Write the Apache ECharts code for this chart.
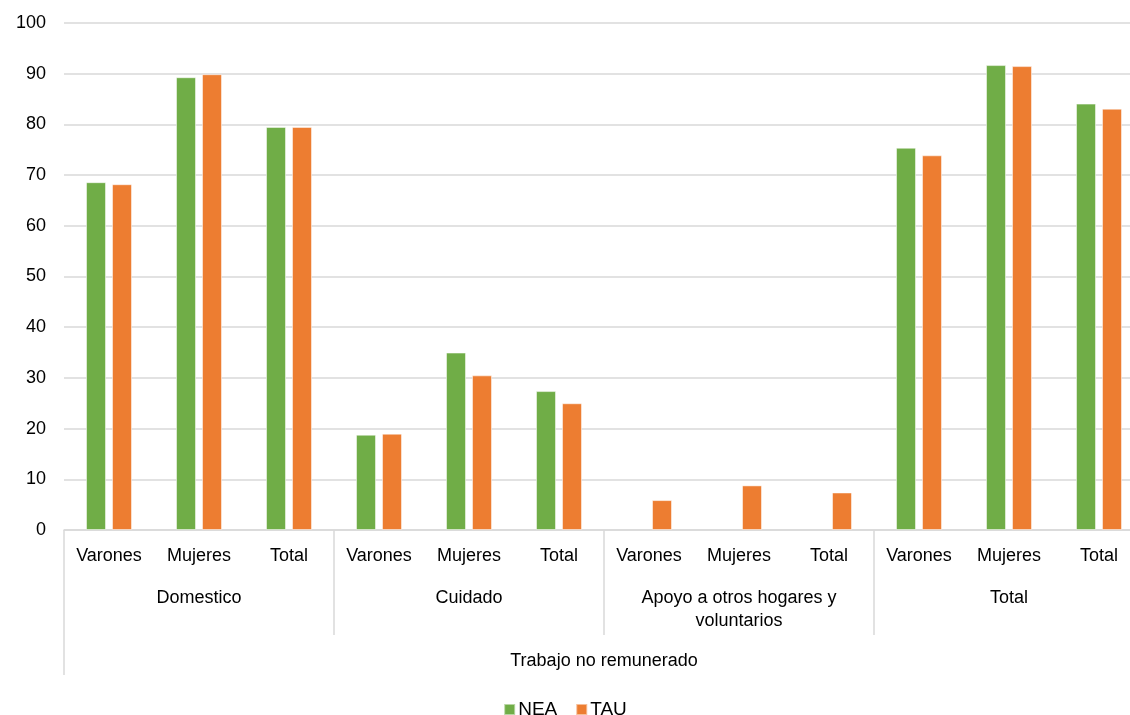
<!DOCTYPE html>
<html>
<head>
<meta charset="utf-8">
<script src="https://cdn.jsdelivr.net/npm/echarts@6/dist/echarts.min.js"></script>
<style>
  html, body { margin: 0; padding: 0; background: #fff; }
  #chart { width: 1130px; height: 715px; }
</style>
</head>
<body>
<div id="chart"></div>
<script>
// subcategories (first row of the axis)
var subLabels = ['Varones', 'Mujeres', 'Total', 'Varones', 'Mujeres', 'Total',
                 'Varones', 'Mujeres', 'Total', 'Varones', 'Mujeres', 'Total'];
// groups (second row)
var groupLabels = ['Domestico', 'Cuidado', 'Apoyo a otros hogares y\nvoluntarios', 'Total'];
// top row
var topLabels = ['Trabajo no remunerado'];

var neaValues = [68.6, 89.3, 79.5, 18.8, 35.0, 27.4, null, null, null, 75.4, 91.7, 84.1];
var tauValues = [68.2, 89.9, 79.5, 19.0, 30.5, 25.0, 5.9, 8.8, 7.4, 73.9, 91.5, 83.1];

var yTicks = { min: 0, max: 100, step: 10 };

var font = '"Liberation Sans", Arial, Helvetica, sans-serif';
var lineCol = '#d9d9d9';

var chart = echarts.init(document.getElementById('chart'));

var option = {
    animation: false,
    // last group runs past the right edge, like the cropped original
    grid: { left: 64, top: 23, width: 1080, height: 507, containLabel: false, outerBoundsMode: 'none' },
    legend: {
        top: 695,
        left: 'center',
        icon: 'rect',
        itemWidth: 11,
        itemHeight: 11,
        itemGap: 18,
        textStyle: { fontFamily: font, fontSize: 19, color: '#000', padding: [0, 0, 0, -2] },
        data: ['NEA', 'TAU']
    },
    xAxis: [
        {
            type: 'category',
            data: subLabels,
            axisLine: { lineStyle: { color: lineCol, width: 1.5 } },
            axisTick: { show: false },
            axisLabel: { interval: 0, margin: 17, color: '#000', fontFamily: font, fontSize: 18 }
        },
        {
            type: 'category',
            position: 'bottom',
            data: groupLabels,
            axisLine: { show: false },
            axisTick: { show: true, length: 105, lineStyle: { color: lineCol, width: 1.5 } },
            axisLabel: { interval: 0, margin: 57, color: '#000', fontFamily: font, fontSize: 18, lineHeight: 23 },
            splitLine: { show: false }
        },
        {
            type: 'category',
            position: 'bottom',
            data: topLabels,
            axisLine: { show: false },
            axisTick: { show: true, length: 145, lineStyle: { color: lineCol, width: 1.5 } },
            axisLabel: { interval: 0, margin: 122, color: '#000', fontFamily: font, fontSize: 18 },
            splitLine: { show: false }
        }
    ],
    yAxis: {
        type: 'value',
        min: yTicks.min,
        max: yTicks.max,
        interval: yTicks.step,
        axisLine: { show: false },
        axisTick: { show: false },
        axisLabel: { margin: 18, color: '#000', fontFamily: font, fontSize: 18 },
        splitLine: { lineStyle: { color: lineCol, width: 1.5 } }
    },
    series: [
        {
            name: 'NEA',
            type: 'bar',
            xAxisIndex: 0,
            data: neaValues,
            barWidth: 20,
            barGap: '30%',
            itemStyle: { color: '#70ad47', borderColor: 'rgba(255,255,255,0.5)', borderWidth: 1 }
        },
        {
            name: 'TAU',
            type: 'bar',
            xAxisIndex: 0,
            data: tauValues,
            barWidth: 20,
            barGap: '30%',
            itemStyle: { color: '#ed7d31', borderColor: 'rgba(255,255,255,0.5)', borderWidth: 1 }
        }
    ]
};

chart.setOption(option);
</script>
</body>
</html>
